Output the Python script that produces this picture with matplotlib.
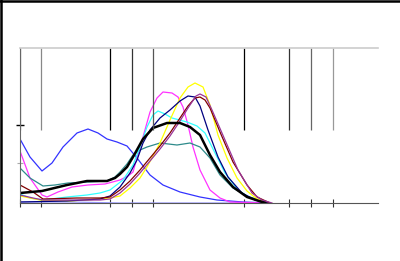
import matplotlib
matplotlib.use("Agg")
import matplotlib.pyplot as plt
from matplotlib.lines import Line2D

# --- data (x, y in chart units) ---
blue_x = [0, 10, 22, 32, 43, 57, 68, 78, 87, 97, 107, 117, 130, 143, 160, 180, 197, 223, 250]
blue_y = [64, 46, 32, 40, 56, 70, 74, 70, 64, 61, 57, 45, 28, 18, 11, 6, 3, 1, 0]

magenta_x = [0, 10, 22, 27, 38, 52, 68, 85, 100, 108, 113, 117, 123, 130, 137, 143, 152, 158, 163, 168, 173, 180, 190, 200, 210, 245]
magenta_y = [52, 25, 8, 6, 11, 16, 18, 19, 23, 27, 31, 45, 66, 91, 105, 111, 110, 106, 96, 78, 56, 33, 13, 5, 1, 0]

teal_x = [0, 10, 23, 35, 48, 68, 87, 95, 100, 107, 113, 120, 127, 140, 157, 170, 180, 190, 200, 213, 227, 245]
teal_y = [35, 25, 17, 18, 20, 21, 22, 26, 31, 39, 48, 53, 56, 60, 58, 60, 56, 45, 28, 15, 7, 1]

cyan_x = [0, 10, 23, 47, 67, 80, 90, 103, 113, 120, 127, 133, 138, 145, 152, 167, 177, 185, 195, 205, 218, 230, 245]
cyan_y = [9, 5, 3, 6, 8, 10, 13, 23, 38, 56, 76, 88, 92, 89, 85, 81, 77, 70, 50, 30, 13, 5, 0]

yellow_x = [0, 20, 50, 80, 90, 100, 110, 120, 127, 140, 150, 160, 168, 175, 183, 190, 198, 207, 217, 227, 237, 250]
yellow_y = [7, 3, 2, 4, 5, 7, 15, 25, 36, 60, 83, 105, 116, 120, 116, 98, 68, 45, 25, 12, 4, 0]

navy_x = [0, 47, 80, 90, 100, 110, 117, 123, 130, 140, 150, 160, 168, 175, 180, 188, 198, 208, 222, 235, 250]
navy_y = [1, 2, 4, 7, 16, 30, 43, 60, 73, 85, 93, 102, 107, 106, 97, 73, 46, 26, 10, 3, 0]

maroon_x = [0, 13, 23, 57, 80, 90, 100, 110, 120, 130, 140, 150, 160, 168, 175, 180, 185, 190, 200, 213, 227, 237, 250]
maroon_y = [18, 11, 4, 5, 5, 6, 13, 22, 33, 45, 57, 70, 85, 97, 105, 106, 103, 95, 71, 41, 18, 6, 0]

purple_x = [0, 13, 23, 80, 90, 100, 110, 120, 130, 140, 150, 160, 168, 176, 180, 186, 192, 205, 218, 232, 242, 252]
purple_y = [8, 5, 3, 3, 4, 10, 19, 30, 42, 54, 67, 82, 95, 107, 109, 106, 93, 63, 33, 10, 3, 0]

lavender_x = [0, 50, 100, 150, 200, 250]
lavender_y = [1, 1, 0, 0, 0, 0]

black_x = [0, 22, 47, 67, 87, 95, 100, 107, 113, 123, 133, 147, 160, 170, 180, 190, 200, 213, 227, 245]
black_y = [10, 12, 18, 22, 22, 25, 29, 36, 46, 64, 75, 80, 80, 76, 68, 48, 31, 16, 6, 0]

# marker lines across the top of the chart
marker_x = [0, 21, 90, 112, 133, 224, 269, 291, 313]
marker_colors = ['#666666', '#888888', '#000000', '#333333', '#555555',
                 '#000000', '#333333', '#666666', '#999999']


def plot_chart():
    fig = plt.figure(figsize=(4, 2.61), dpi=100)
    ax = fig.add_axes([20 / 400, 58 / 261, 358 / 400, 155 / 261])

    # thin curves first, thick black one on top
    series = [
        (lavender_x, lavender_y, '#9999ff'),
        (blue_x, blue_y, '#3333ff'),
        (magenta_x, magenta_y, '#ff33ff'),
        (teal_x, teal_y, '#2e8b8b'),
        (cyan_x, cyan_y, '#33ffff'),
        (yellow_x, yellow_y, '#ffff00'),
        (navy_x, navy_y, '#000080'),
        (maroon_x, maroon_y, '#800000'),
        (purple_x, purple_y, '#993399'),
    ]
    for xs, ys, c in series:
        ax.plot(xs, ys, color=c, lw=0.9)
    ax.plot(black_x, black_y, color='black', lw=1.8)

    for x, c in zip(marker_x, marker_colors):
        ax.vlines(x, 73, 155, color=c, lw=0.9)

    ax.set_xlim(0, 358)
    ax.set_ylim(0, 155)

    ax.set_xticks(marker_x)
    ax.set_xticklabels([])
    ax.tick_params(axis='x', direction='inout', length=6, width=0.8, color='#333333')
    ax.set_yticks([78])
    ax.set_yticks([40], minor=True)
    ax.set_yticklabels([])
    ax.tick_params(axis='y', which='major', direction='inout', length=6, width=1, color='black')
    ax.tick_params(axis='y', which='minor', direction='inout', length=4, width=0.8, color='#aaaaaa')

    ax.spines['right'].set_visible(False)
    ax.spines['top'].set_color('#cccccc')
    ax.spines['top'].set_linewidth(1.2)
    ax.spines['left'].set_color('#666666')
    ax.spines['bottom'].set_color('#555555')

    # frame lines on the top and left edge of the picture
    fig.add_artist(Line2D([0, 1], [1 - 1 / 261, 1 - 1 / 261], color='black', lw=1.8))
    fig.add_artist(Line2D([1 / 400, 1 / 400], [0, 1], color='black', lw=1.8))

    fig.savefig('out.png', dpi=100)


if __name__ == '__main__':
    plot_chart()
